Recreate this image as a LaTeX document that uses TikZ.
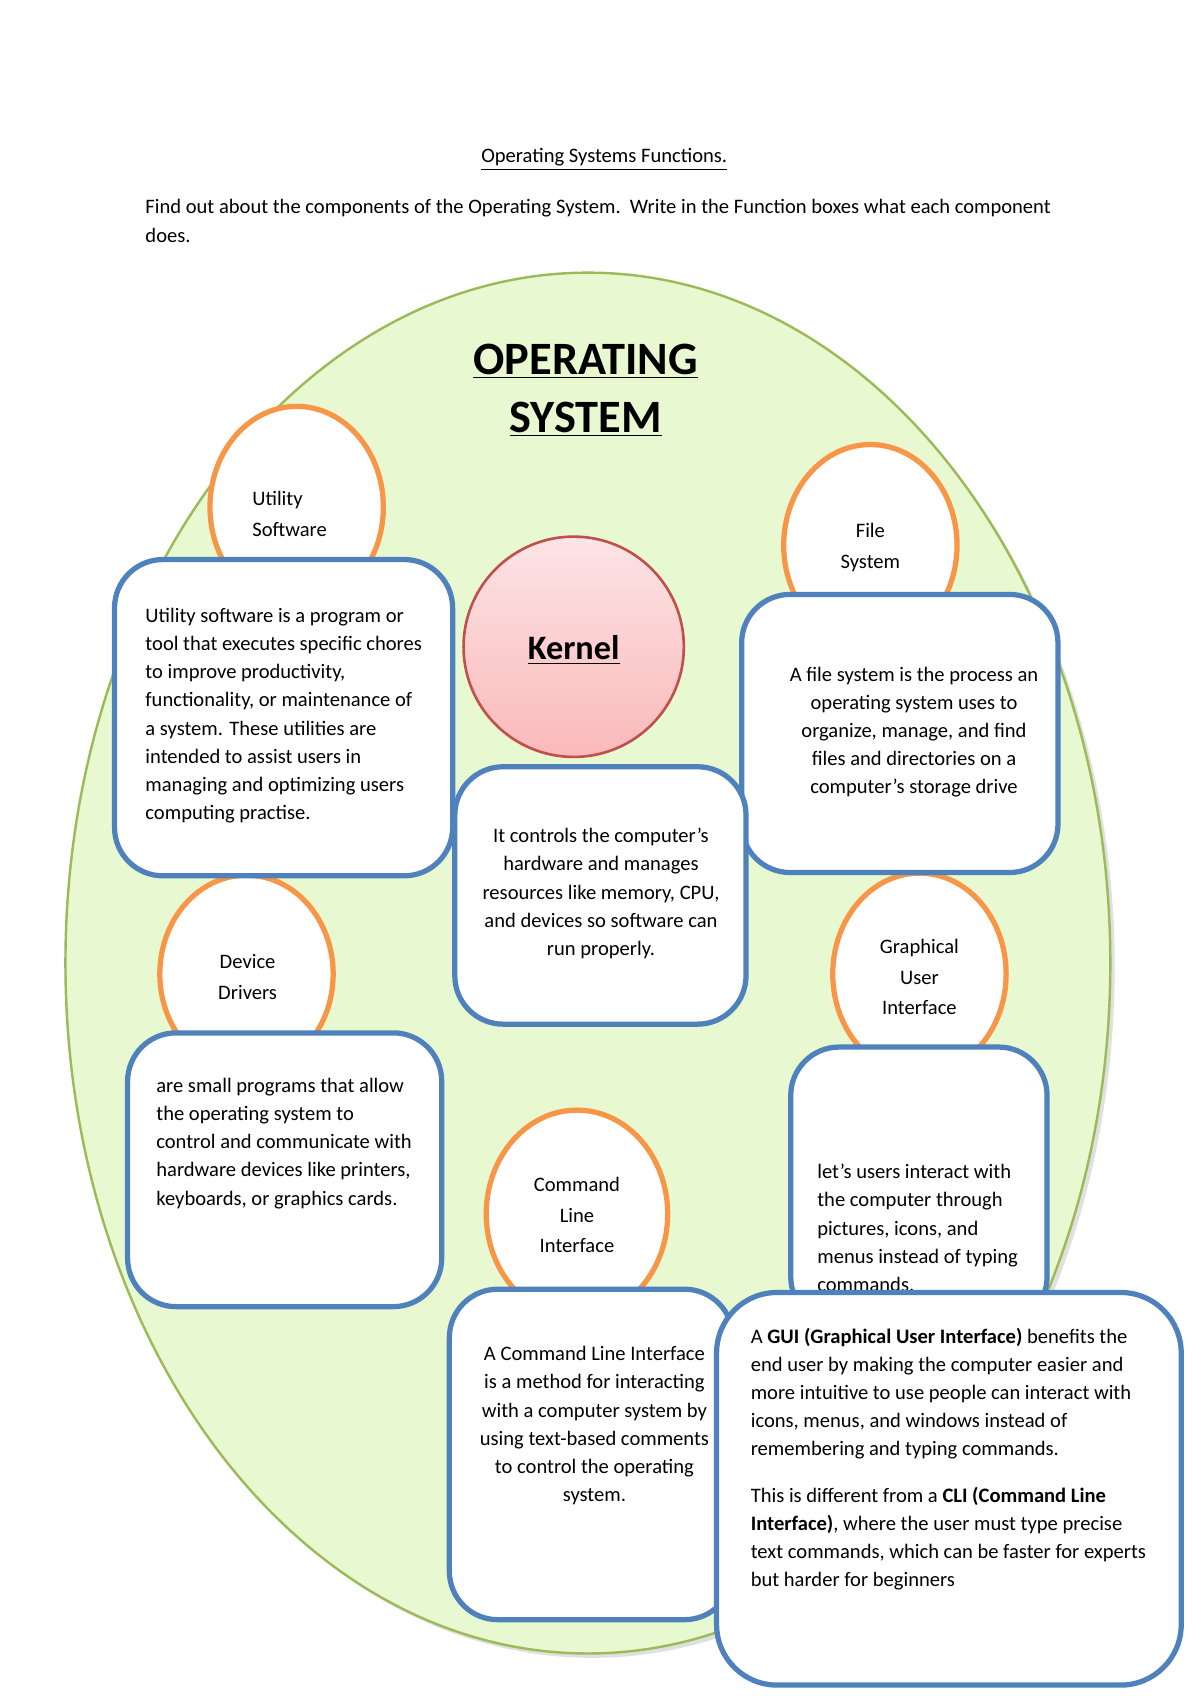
\documentclass[tikz,border=0pt]{standalone}
\usepackage{fontspec}
\setmainfont{Carlito}
\usetikzlibrary{shapes.geometric}
\definecolor{ovfill}{HTML}{E8F8D0}
\definecolor{ovline}{HTML}{9BBB59}
\definecolor{blueb}{HTML}{4F81BD}
\definecolor{orng}{HTML}{F79646}
\definecolor{kred}{HTML}{C0504D}
\definecolor{kfillA}{HTML}{FDE4E6}
\definecolor{kfillB}{HTML}{FAB9B9}
\tikzset{
  compell/.style={draw=orng,line width=2.6pt,fill=white},
  fbox/.style={draw=blueb,line width=2.6pt,fill=white,rounded corners=24pt},
  body/.style={inner sep=0pt,font=\fontsize{10.2}{14}\selectfont,align=left},
  bodyc/.style={inner sep=0pt,font=\fontsize{10.2}{14}\selectfont,align=center},
  lab/.style={inner sep=0pt,font=\fontsize{10.2}{15.2}\selectfont,align=center},
}
\begin{document}
\begin{tikzpicture}[x=0.541pt,y=-0.541pt]
\useasboundingbox (0,0) rectangle (1100,1555);
\fill[white] (0,0) rectangle (1100,1555);
% header
\node[inner sep=0pt,font=\fontsize{10.2}{14}\selectfont] (title) at (554,146) {\underline{Operating Systems Functions.}};
\node[body,anchor=west] (instr1) at (133,191) {Find out about the components of the Operating System.\ \ Write in the Function boxes what each component};
\node[body,anchor=west] (instr2) at (133,216) {does.};
% big ellipse
\fill[black!12] (543,887) ellipse [x radius=479,y radius=633];
\node[draw=ovline,fill=ovfill,line width=1.2pt,ellipse,minimum width=958pt*0.541,minimum height=1266pt*0.541,inner sep=0pt] (os) at (539,883) {};
\node[inner sep=0pt,font=\bfseries\fontsize{23}{29}\selectfont,align=center] (ostitle) at (537,358) {\underline{OPERATING}\\\underline{SYSTEM}};
% component ellipses
\node[compell,ellipse,minimum width=86pt,minimum height=100pt] (util) at (272,465) {};
\node[lab,align=left,anchor=west] (utilt) at (231,471) {Utility\\Software};
\node[compell,ellipse,minimum width=86pt,minimum height=100pt] (file) at (798,500) {};
\node[lab] (filet) at (798,502) {File\\System};
\node[compell,ellipse,minimum width=86pt,minimum height=98pt] (dev) at (226,893) {};
\node[lab] (devt) at (227,896) {Device\\Drivers};
\node[compell,ellipse,minimum width=86pt,minimum height=100pt] (gui) at (843,893) {};
\node[lab] (guit) at (843,896) {Graphical\\User\\Interface};
\node[compell,ellipse,minimum width=90pt,minimum height=103pt] (cli) at (529,1113) {};
\node[lab] (clit) at (529,1114) {Command\\Line\\Interface};
% kernel
\node[draw=kred,line width=1.3pt,circle,minimum size=202pt*0.541,top color=kfillA,bottom color=kfillB] (kern) at (526,593) {};
\node[inner sep=0pt,font=\bfseries\fontsize{17}{20}\selectfont] (kernt) at (526,596) {\underline{Kernel}};
% function boxes
\draw[fbox] (105,513) rectangle (415,803);
\node[body,anchor=north west] (utilb) at (133,557) {Utility software is a program or\\tool that executes specific chores\\to improve productivity,\\functionality, or maintenance of\\a system. These utilities are\\intended to assist users in\\managing and optimizing users\\computing practise.};
\draw[fbox] (680,545) rectangle (970,800);
\node[bodyc,anchor=north] (fileb) at (838,611) {A file system is the process an\\operating system uses to\\organize, manage, and find\\files and directories on a\\computer's storage drive};
\draw[fbox] (417,703) rectangle (684,939);
\node[bodyc,anchor=north] (kernb) at (551,759) {It controls the computer's\\hardware and manages\\resources like memory, CPU,\\and devices so software can\\run properly.};
\draw[fbox] (117,947) rectangle (405,1198);
\node[body,anchor=north west] (devb) at (143,988) {are small programs that allow\\the operating system to\\control and communicate with\\hardware devices like printers,\\keyboards, or graphics cards.};
\draw[fbox] (725,960) rectangle (960,1215);
\node[body,anchor=north west] (guib) at (749,1067) {let's users interact with\\the computer through\\pictures, icons, and\\menus instead of typing\\commands.};
\draw[fbox] (412,1182) rectangle (672,1485);
\node[bodyc,anchor=north] (clib) at (545,1234) {A Command Line Interface\\is a method for interacting\\with a computer system by\\using text-based comments\\to control the operating\\system.};
\draw[fbox,rounded corners=30pt] (657,1185) rectangle (1083,1545);
\node[body,anchor=north west] (bigb) at (688,1217) {A \textbf{GUI (Graphical User Interface)} benefits the\\end user by making the computer easier and\\more intuitive to use people can interact with\\icons, menus, and windows instead of\\remembering and typing commands.\\[9pt]This is different from a \textbf{CLI (Command Line}\\\textbf{Interface)}, where the user must type precise\\text commands, which can be faster for experts\\but harder for beginners};
\end{tikzpicture}
\end{document}
